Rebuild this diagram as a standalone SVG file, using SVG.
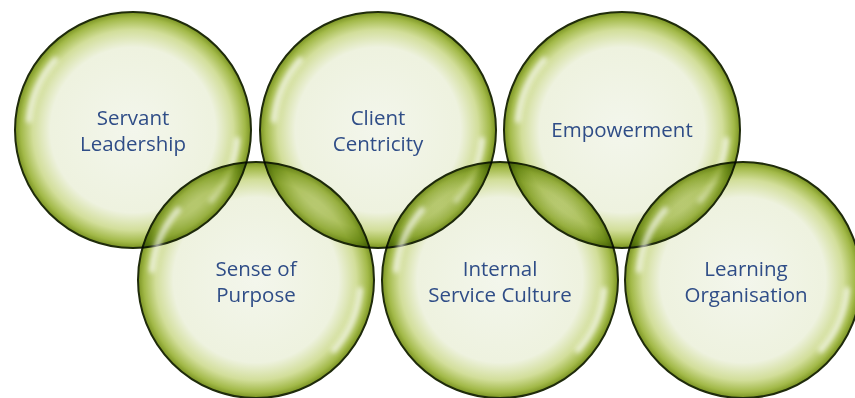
<svg xmlns="http://www.w3.org/2000/svg" width="855" height="398" viewBox="0 0 855 398">
<defs>
<radialGradient id="bub" cx="0.5" cy="0.5" r="0.5">
<stop offset="0" stop-color="#f3f6ec"/>
<stop offset="0.7" stop-color="#eef2df"/>
<stop offset="0.85" stop-color="#d2de9a"/>
<stop offset="0.95" stop-color="#a2b948"/>
<stop offset="1" stop-color="#7a9322"/>
</radialGradient>
<filter id="blur" x="-50%" y="-50%" width="200%" height="200%"><feGaussianBlur stdDeviation="2.5"/></filter>
<g id="hl" filter="url(#blur)" fill="none" stroke="#ffffff" stroke-linecap="round" opacity="0.7">
<path d="M -104 -10 A 106 106 0 0 1 -78 -70" stroke-width="6"/>
<path d="M 104 10 A 106 106 0 0 1 78 70" stroke-width="6"/>
</g>
<style>
.bub{fill:url(#bub);stroke:#1f2b0b;stroke-width:2;mix-blend-mode:multiply}
.lbl{font-family:"Open Sans","Liberation Sans",sans-serif;font-size:20.5px;fill:#2f4d87;text-anchor:middle}
</style>
</defs>
<rect width="855" height="398" fill="#ffffff"/>
<g id="servant-leadership" transform="translate(133,130)">
<circle class="bub" r="118"/><use href="#hl"/>
<text class="lbl" y="-5">Servant</text><text class="lbl" y="21">Leadership</text>
</g>
<g id="client-centricity" transform="translate(378,130)">
<circle class="bub" r="118"/><use href="#hl"/>
<text class="lbl" y="-5">Client</text><text class="lbl" y="21">Centricity</text>
</g>
<g id="empowerment" transform="translate(622,130)">
<circle class="bub" r="118"/><use href="#hl"/>
<text class="lbl" y="7">Empowerment</text>
</g>
<g id="sense-of-purpose" transform="translate(256,280)">
<circle class="bub" r="118"/><use href="#hl"/>
<text class="lbl" y="-4">Sense of</text><text class="lbl" y="22">Purpose</text>
</g>
<g id="internal-service-culture" transform="translate(500,280)">
<circle class="bub" r="118"/><use href="#hl"/>
<text class="lbl" y="-4">Internal</text><text class="lbl" y="22">Service Culture</text>
</g>
<g id="learning-organisation" transform="translate(743,280)">
<circle class="bub" r="118"/><use href="#hl"/>
<text class="lbl" x="3" y="-4">Learning</text><text class="lbl" x="3" y="22">Organisation</text>
</g>
<g id="connectors"/>
</svg>
